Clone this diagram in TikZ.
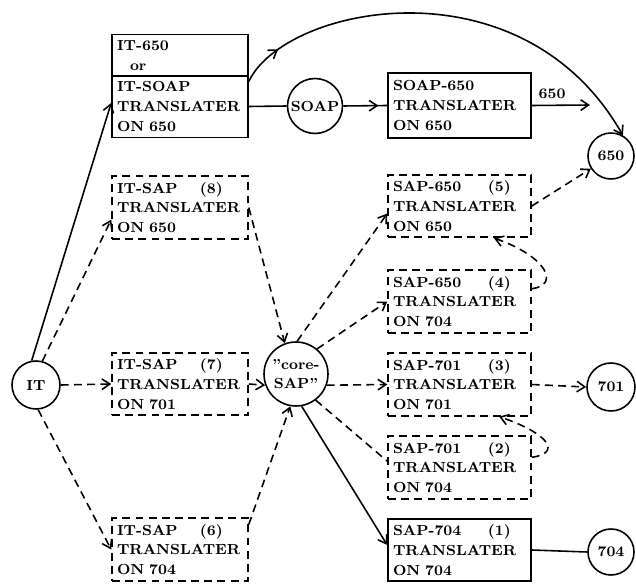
\documentclass[tikz,border=0pt]{standalone}
\usepackage{fontspec}
\usepackage{tikz}
\usetikzlibrary{arrows.meta, decorations.markings}

\newcommand{\plainquote}{{\addfontfeatures{Ligatures=TeXOff}"}}

\tikzstyle{translater} = [rectangle,
draw=black,
align=left,
text width=2.52cm,
inner xsep=0.1cm,
minimum width=2.72cm,
minimum height=1.24cm,
font=\bfseries\fontsize{8.3}{11.3}\selectfont]
\tikzstyle{planned} = [translater,
dash pattern=on 4.5pt off 3pt]
\tikzstyle{wide} = [text width=2.66cm,
minimum width=2.86cm]
\tikzstyle{machine} = [circle,
draw=black,
inner sep=0pt,
align=center,
font=\bfseries\fontsize{8.3}{11.3}\selectfont]
\tikzstyle{dline} = [dash pattern=on 4.5pt off 3pt]

\begin{document}
\begin{tikzpicture}[x=0.02cm, y=-0.02cm, line width=0.9pt,
    >={Straight Barb[length=4.5pt,width=6pt]},
    tipat/.style={postaction={decorate,
        decoration={markings, mark=at position #1 with {\arrow{>}}}}}
    ]
    \useasboundingbox (0,0) rectangle (636,584);

    % left column
    \node (it) [machine, minimum size=0.96cm] at (36,385) {IT};
    \node (it650) [translater, minimum height=0.82cm] at (180,55.5) {IT-650\\\hspace*{0.26cm}or};
    \node (itsoap) [translater, minimum height=1.22cm] at (180,106.5) {IT-SOAP\\TRANSLATER\\ON 650};
    \node (sap8) [planned] at (180,207.5) {\makebox[1.66cm][l]{IT-SAP}(8)\\TRANSLATER\\ON 650};
    \node (sap7) [planned] at (180,384) {\makebox[1.66cm][l]{IT-SAP}(7)\\TRANSLATER\\ON 701};
    \node (sap6) [planned] at (180,549.5) {\makebox[1.66cm][l]{IT-SAP}(6)\\TRANSLATER\\ON 704};

    \node (soap) [machine, minimum size=1.1cm] at (315,106) {SOAP};
    \node (core) [machine, minimum size=1.28cm] at (296,374) {\plainquote core-\\SAP\plainquote};

    % right column
    \node (soap650) [translater, wide, minimum height=1.3cm] at (459.5,105.5) {SOAP-650\\TRANSLATER\\ON 650};
    \node (sap5) [planned, wide] at (459.5,206) {\makebox[1.9cm][l]{SAP-650}(5)\\TRANSLATER\\ON 650};
    \node (sap4) [planned, wide] at (459.5,301.5) {\makebox[1.9cm][l]{SAP-650}(4)\\TRANSLATER\\ON 704};
    \node (sap3) [planned, wide] at (459.5,384.5) {\makebox[1.9cm][l]{SAP-701}(3)\\TRANSLATER\\ON 701};
    \node (sap2) [planned, wide] at (459.5,467.5) {\makebox[1.9cm][l]{SAP-701}(2)\\TRANSLATER\\ON 704};
    \node (sap1) [translater, wide] at (459.5,550) {\makebox[1.9cm][l]{SAP-704}(1)\\TRANSLATER\\ON 704};

    \node (c650) [machine, minimum size=0.92cm] at (611,156) {650};
    \node (c701) [machine, minimum size=0.96cm] at (611,387) {701};
    \node (c704) [machine, minimum size=0.92cm] at (611,552) {704};

    \coordinate (join) at (590,105);

    % from IT
    \draw[->] (it.100) -- (itsoap.177);
    \draw[->, dline] (it.75) -- (sap8.190);
    \draw[->, dline] (it.east) -- (sap7.west);
    \draw[->, dline] (it.-85) -- (sap6.west);

    % 650 route
    \draw (itsoap.east) -- (soap.west);
    \draw[tipat=0.8] (soap.east) -- (soap650.west);
    \draw[tipat=0.1, ->] (itsoap.20) .. controls (285,5) and (522,-42) .. (c650.60);
    \draw[->] (soap650.east) -- node[above, xshift=-5pt, font=\bfseries\fontsize{8.3}{11.3}\selectfont] {650} (join);

    % into core-SAP
    \draw[->, dline] (sap8.east) -- (core.110);
    \draw[->, dline] (sap7.east) -- (core.200);
    \draw[->, dline] (sap6.20) -- (core.-100);

    % out of core-SAP
    \draw[->, dline] (core.88) -- (sap5.186);
    \draw[->, dline] (core.50) -- (sap4.west);
    \draw[->, dline] (core.-20) -- (sap3.west);
    \draw[dline] (core.-53) -- (sap2.175);
    \draw[->] (core.-80) -- (sap1.176);

    % to the machines
    \draw[->, dline] (sap5.east) -- (c650);
    \draw[->, dline] (sap4.10) .. controls +(29,-4) and +(52,18) .. (sap5.-43);
    \draw[->, dline] (sap2.8) .. controls +(29,-4) and +(52,18) .. (sap3.-39);
    \draw[->, dline] (sap3.east) -- (c701.west);
    \draw (sap1.east) -- (c704.west);

\end{tikzpicture}
\end{document}
